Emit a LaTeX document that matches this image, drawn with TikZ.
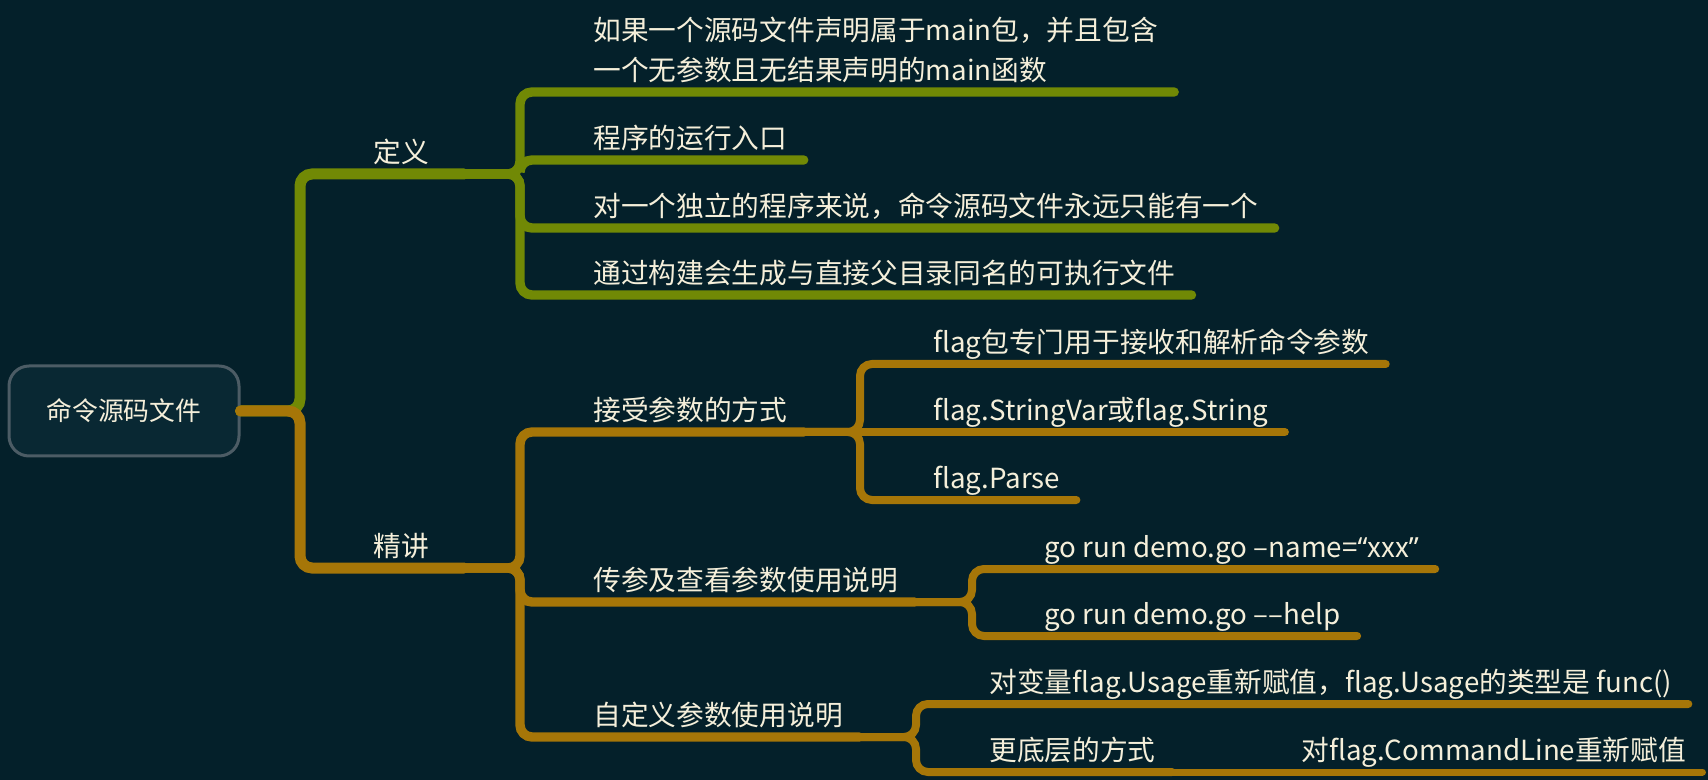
\documentclass[tikz,border=0pt]{standalone}
\usepackage{fontspec}
\setmainfont{Noto Sans CJK SC}
\newfontfamily\latinq{Noto Sans}
\usepackage{tikz}
\definecolor{bgcol}{HTML}{04202A}
\definecolor{rootfill}{HTML}{092833}
\definecolor{rootline}{HTML}{4C5C65}
\definecolor{ink}{HTML}{F5EFDA}
\definecolor{olive}{HTML}{718905}
\definecolor{amber}{HTML}{A67608}
\tikzset{
    root/.style={
        rectangle,
        rounded corners=10pt,
        draw=rootline,
        line width=1.5pt,
        fill=rootfill,
        text=ink,
        minimum width=115pt,
        minimum height=45pt,
        font=\fontsize{12.9pt}{15pt}\selectfont,
    },
    topic/.style={
        anchor=south west,
        text=ink,
        inner xsep=8pt,
        inner ysep=2.2pt,
        text height=12pt,
        text depth=3.5pt,
        font=\fontsize{13.85pt}{20pt}\selectfont,
    },
    wide/.style={inner xsep=17.5pt},
    main/.style={draw, line width=5.5pt, line cap=round, rounded corners=6pt},
    sub/.style={draw, line width=4.7pt, line cap=round, rounded corners=6pt},
    leaf/.style={draw, line width=4pt, line cap=round, rounded corners=6pt},
    tip/.style={draw, line width=3.5pt, line cap=round},
}
\begin{document}
\begin{tikzpicture}[x=0.5pt,y=-0.5pt]
	    \fill [bgcol] (0,0) rectangle (1708,780);
	    \useasboundingbox (0,0) rectangle (1708,780);
	    \node [root] (src) at (124,411) {命令源码文件};
	    \coordinate (r0) at (300,411);
	    % 定义
	    \node [topic,wide] (def) at (338,174) {定义};
	    \coordinate (j1) at (520,174);
	    \node [topic,align=left] (d1) at (577,92) {如果一个源码文件声明属于main包，并且包含\\一个无参数且无结果声明的main函数};
	    \node [topic] (d2) at (577,160) {程序的运行入口};
	    \node [topic] (d3) at (577,228) {对一个独立的程序来说，命令源码文件永远只能有一个};
	    \node [topic] (d4) at (577,295) {通过构建会生成与直接父目录同名的可执行文件};
	    \path [main,olive] (src.east) -- (r0) |- (def.south east);
	    \path [sub,olive] (def.south east) -- (j1) |- (d1.south east);
	    \path [sub,olive] (def.south east) -- (j1) |- (d2.south east);
	    \path [sub,olive] (def.south east) -- (j1) |- (d3.south east);
	    \path [sub,olive] (def.south east) -- (j1) |- (d4.south east);
	    % 精讲
	    \node [topic,wide] (jj) at (338,568) {精讲};
	    \coordinate (j2) at (520,568);
	    \node [topic] (p1) at (577,432) {接受参数的方式};
	    \node [topic] (p2) at (577,602) {传参及查看参数使用说明};
	    \node [topic] (p3) at (577,737) {自定义参数使用说明};
	    \path [main,amber] (src.east) -- (r0) |- (jj.south east);
	    \path [sub,amber] (jj.south east) -- (j2) |- (p1.south east);
	    \path [sub,amber] (jj.south east) -- (j2) |- (p2.south east);
	    \path [sub,amber] (jj.south east) -- (j2) |- (p3.south east);
	    % 接受参数的方式
	    \coordinate (j3) at (860,432);
	    \node [topic] (a1) at (917,364) {flag包专门用于接收和解析命令参数};
	    \node [topic] (a2) at (917,432) {flag.StringVar或flag.String};
	    \node [topic] (a3) at (917,500) {flag.Parse};
	    \path [leaf,amber] (p1.south east) -- (j3) |- (a1.south east);
	    \path [leaf,amber] (p1.south east) -- (j3) -- (a2.south east);
	    \path [leaf,amber] (p1.south east) -- (j3) |- (a3.south east);
	    % 传参及查看参数使用说明
	    \coordinate (j4) at (972,602);
	    \node [topic] (g1) at (1028,569) {go run demo.go –name={\latinq“}xxx{\latinq”}};
	    \node [topic] (g2) at (1028,636) {go run demo.go ––help};
	    \path [leaf,amber] (p2.south east) -- (j4) |- (g1.south east);
	    \path [leaf,amber] (p2.south east) -- (j4) |- (g2.south east);
	    % 自定义参数使用说明
	    \coordinate (j5) at (916,737);
	    \node [topic] (u1) at (973,704) {对变量flag.Usage重新赋值，flag.Usage的类型是 func()};
	    \node [topic] (u2) at (973,772) {更底层的方式};
	    \node [topic] (cl) at (1285,772) {对flag.CommandLine重新赋值};
	    \path [leaf,amber] (p3.south east) -- (j5) |- (u1.south east);
	    \path [leaf,amber] (p3.south east) -- (j5) |- (u2.south east);
	    \path [tip,amber] (u2.south east) -- (cl.south east);
\end{tikzpicture}
\end{document}
